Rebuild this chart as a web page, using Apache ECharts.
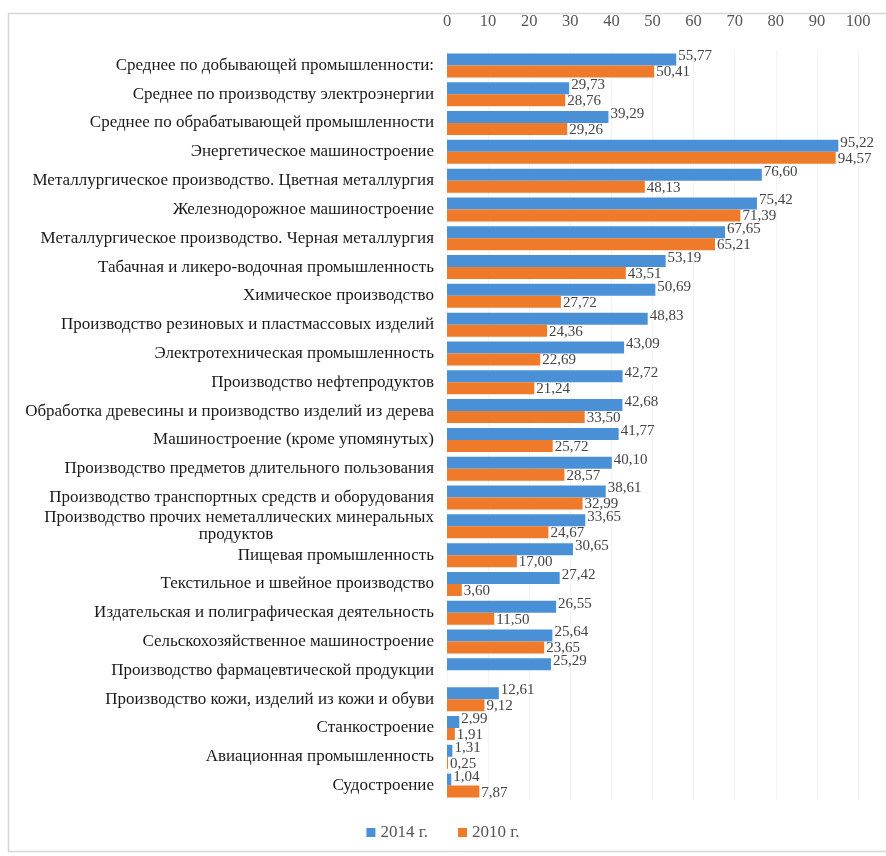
<!DOCTYPE html>
<html>
<head>
<meta charset="utf-8">
<script src="https://cdn.jsdelivr.net/npm/echarts@6/dist/echarts.min.js"></script>
<style>html,body{margin:0;padding:0;background:#fff}#c{width:886px;height:856px}</style>
</head>
<body>
<div id="c"></div>
<script>
const categories = [
  'Среднее по добывающей промышленности:',
  'Среднее по производству электроэнергии',
  'Среднее по обрабатывающей промышленности',
  'Энергетическое машиностроение',
  'Металлургическое производство. Цветная металлургия',
  'Железнодорожное машиностроение',
  'Металлургическое производство. Черная металлургия',
  'Табачная и ликеро-водочная промышленность',
  'Химическое производство',
  'Производство резиновых и пластмассовых изделий',
  'Электротехническая промышленность',
  'Производство нефтепродуктов',
  'Обработка древесины и производство изделий из дерева',
  'Машиностроение (кроме упомянутых)',
  'Производство предметов длительного пользования',
  'Производство транспортных средств и оборудования',
  'Производство прочих неметаллических минеральных продуктов',
  'Пищевая промышленность',
  'Текстильное и швейное производство',
  'Издательская и полиграфическая деятельность',
  'Сельскохозяйственное машиностроение',
  'Производство фармацевтической продукции',
  'Производство кожи, изделий из кожи и обуви',
  'Станкостроение',
  'Авиационная промышленность',
  'Судостроение'
];
const values2014 = [55.77, 29.73, 39.29, 95.22, 76.60, 75.42, 67.65, 53.19, 50.69, 48.83, 43.09, 42.72, 42.68, 41.77, 40.10, 38.61, 33.65, 30.65, 27.42, 26.55, 25.64, 25.29, 12.61, 2.99, 1.31, 1.04];
const values2010 = [50.41, 28.76, 29.26, 94.57, 48.13, 71.39, 65.21, 43.51, 27.72, 24.36, 22.69, 21.24, 33.50, 25.72, 28.57, 32.99, 24.67, 17.00, 3.60, 11.50, 23.65, null, 9.12, 1.91, 0.25, 7.87];
const seriesNames = ['2014 г.', '2010 г.'];
const xTicks = {min: 0, max: 100, interval: 10};

const FONT = '"Liberation Serif", "DejaVu Serif", serif';
const fmt = v => (v == null ? '' : v.toFixed(2).replace('.', ','));

const chart = echarts.init(document.getElementById('c'), null, {renderer: 'canvas'});
chart.setOption({
  animation: false,
  backgroundColor: '#fff',
  graphic: [{
    type: 'rect', shape: {x: 8.5, y: 13.5, width: 900, height: 838},
    style: {fill: 'none', stroke: '#d6d6d6', lineWidth: 1.5}, silent: true, z: -1
  }],
  grid: {left: 447, right: 28, top: 51, bottom: 56, containLabel: false},
  xAxis: {
    type: 'value', position: 'top',
    min: xTicks.min, max: xTicks.max, interval: xTicks.interval,
    axisLine: {show: false}, axisTick: {show: false},
    axisLabel: {margin: 21, fontFamily: FONT, fontSize: 16.5, color: '#555'},
    splitLine: {show: true, lineStyle: {color: '#f3f3f3', width: 1}}
  },
  yAxis: {
    type: 'category', inverse: true, data: categories,
    axisLine: {show: false}, axisTick: {show: false},
    axisLabel: {
      margin: 13, fontFamily: FONT, fontSize: 17, color: '#1a1a1a',
      formatter: function (v) {
        if (v === 'Производство прочих неметаллических минеральных продуктов') {
          return '{a|Производство прочих неметаллических минеральных}\n{b|продуктов}';
        }
        return v;
      },
      rich: {
        a: {fontFamily: FONT, fontSize: 17, color: '#1a1a1a', lineHeight: 17},
        b: {fontFamily: FONT, fontSize: 17, color: '#1a1a1a', lineHeight: 17, width: 396, align: 'center'}
      }
    }
  },
  legend: {
    bottom: 10, left: 'center', itemWidth: 9, itemHeight: 9, itemGap: 30,
    icon: 'rect',
    textStyle: {fontFamily: FONT, fontSize: 17, color: '#555'},
    data: seriesNames
  },
  series: [
    {
      name: seriesNames[0], type: 'bar', data: values2014, barWidth: 12, barGap: '0%',
      itemStyle: {color: '#4a90d6'},
      label: {show: true, position: 'right', distance: 2, offset: [0, -3], fontFamily: FONT, fontSize: 15, color: '#444', formatter: p => fmt(p.value)}
    },
    {
      name: seriesNames[1], type: 'bar', data: values2010, barWidth: 12, barGap: '0%',
      itemStyle: {color: '#ef7b2a'},
      label: {show: true, position: 'right', distance: 2, offset: [0, 1], fontFamily: FONT, fontSize: 15, color: '#444', formatter: p => fmt(p.value)}
    }
  ]
});
</script>
</body>
</html>
